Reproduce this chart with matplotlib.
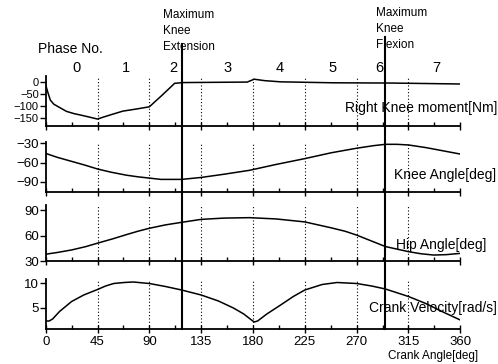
import numpy as np
import matplotlib
matplotlib.use("Agg")
import matplotlib.pyplot as plt
from matplotlib import transforms

plt.rcParams["font.family"] = ["Liberation Sans", "DejaVu Sans"]

# crank angle [deg] / value pairs
moment_x = [0, 2, 4, 7, 11, 18, 25, 30, 38, 45, 50, 56, 67, 79, 90, 101, 112, 120,
            175, 178, 181, 190, 204, 250, 300, 360]
moment_y = [-12, -45, -75, -92, -103, -122, -132, -137, -146, -154, -146, -137, -121,
            -112, -103, -55, -5, -2, 0, 6, 12, 6, 1, -3, -4, -8]

knee_x = [0, 10, 22, 34, 45, 57, 70, 80, 90, 100, 118, 135, 155, 177, 200, 225, 248,
          270, 285, 295, 305, 315, 330, 345, 360]
knee_y = [-46, -52, -58, -64, -70, -75, -79.5, -82, -84, -86, -86, -83, -78, -72, -63,
          -54, -45, -38, -34, -32, -32, -33, -37, -42, -47]

hip_x = [0, 10, 22.5, 35, 45, 58, 70, 80, 90, 104, 118, 135, 155, 177, 200, 225, 248,
         260, 270, 282, 295, 305, 315, 326, 337, 348, 360]
hip_y = [38, 40, 43, 47, 51, 56, 61, 65, 68.5, 72.5, 75.5, 79, 80.5, 81, 79.5, 76, 69,
         65, 60.5, 54, 47, 44, 41, 38.5, 37, 37.5, 39]

vel_x = [0, 3, 6, 12, 22.5, 33, 45, 52, 59, 68, 76, 90, 104, 118, 135, 150, 163, 172,
         177, 181, 184, 192, 204, 215, 225, 240, 253, 270, 283, 295, 315, 330, 345, 360]
vel_y = [2.4, 2.4, 2.8, 4.3, 6.3, 7.6, 8.7, 9.4, 9.9, 10.1, 10.2, 9.9, 9.3, 8.6, 7.6,
         6.4, 5.0, 3.8, 2.9, 2.2, 2.4, 3.8, 5.6, 7.3, 8.6, 9.7, 10.1, 9.9, 9.4, 8.8, 7.3,
         5.9, 4.2, 2.6]

events = [118, 295]
event_text = ["Maximum\nKnee\nExtension", "Maximum\nKnee\nFlexion"]
phase_x = [27, 70, 111, 158, 203, 249, 290, 339]
phase_labels = ["0", "1", "2", "3", "4", "5", "6", "7"]

panels = [
    # (x, y, ylim, spine top, yticks, label, label y px, label right px, ytick size)
    (moment_x, moment_y, (-183, 92), 25, [0, -50, -100, -150], "Right Knee moment[Nm]", 108, 497, 8),
    (knee_x, knee_y, (-105.4, -3.8), -28, [-30, -60, -90], "Knee Angle[deg]", 175, 496, 9.5),
    (hip_x, hip_y, (30, 111.2), 96, [30, 60, 90], "Hip Angle[deg]", 245, 486, 9.5),
    (vel_x, vel_y, (0.8, 14.4), 10.8, [5, 10], "Crank Velocity[rad/s]", 308, 497, 9.5),
]
# panel boxes in pixels from the top: (top, bottom)
boxes = [(60, 126), (126, 192), (192, 261), (261, 329)]

W, H = 498, 364
fig = plt.figure(figsize=(W / 100, H / 100), dpi=100)
left, right = 45.7 / W, 460.3 / W

axes = []
for (xs, ys, ylim, stop, yt, lab, ly, lx, yfs), (top, bot) in zip(panels, boxes):
    ax = fig.add_axes([left, (H - bot) / H, right - left, (bot - top) / H])
    ax.plot(xs, ys, color="black", lw=1.1)
    ax.set_xlim(0, 360)
    ax.set_ylim(*ylim)
    for s in ["top", "right"]:
        ax.spines[s].set_visible(False)
    ax.spines["left"].set_bounds(ylim[0], stop)
    ax.spines["left"].set_linewidth(1.3)
    ax.spines["bottom"].set_linewidth(1.3)
    ax.vlines(np.arange(45, 360, 45), ylim[0], stop, colors="black",
              linestyles=(0, (1, 2)), lw=0.8)
    ax.set_yticks(yt)
    ax.tick_params(axis="y", direction="out", length=4, width=1, labelsize=yfs, pad=1)
    ax.set_xticks(np.arange(0, 361, 45))
    ax.set_xticks(np.arange(22.5, 360, 45), minor=True)
    ax.tick_params(axis="x", which="major", direction="inout", length=6, width=1,
                   labelsize=9.5, pad=2)
    ax.tick_params(axis="x", which="minor", direction="in", length=3, width=1)
    ax.patch.set_visible(False)
    fig.text(lx / W, (H - ly) / H, lab, ha="right", va="center", fontsize=10)
    axes.append(ax)

for ax in axes[:-1]:
    ax.tick_params(axis="x", labelbottom=False)

ax4 = axes[-1]
trans = transforms.blended_transform_factory(ax4.transData, fig.transFigure)
tops = [44, 37]
txt_x = [102, 286.5]
txt_y = [31, 29]
for ev, t, tx, ty, tt in zip(events, tops, txt_x, txt_y, event_text):
    ax4.plot([ev, ev], [(H - 329) / H, (H - t) / H], color="black", lw=1.5,
             transform=trans, clip_on=False)
    ax4.text(tx, (H - ty) / H, tt, transform=trans, ha="left", va="center",
             fontsize=8.5, linespacing=1.45)

for px, pl in zip(phase_x, phase_labels):
    ax4.text(px, (H - 68) / H, pl, transform=trans, ha="center", va="center", fontsize=10.5)

fig.text(70 / W, (H - 49) / H, "Phase No.", ha="center", va="center", fontsize=10)
fig.text(478 / W, (H - 356) / H, "Crank Angle[deg]", ha="right", va="center", fontsize=8.5)

fig.savefig("out.png", dpi=100)
